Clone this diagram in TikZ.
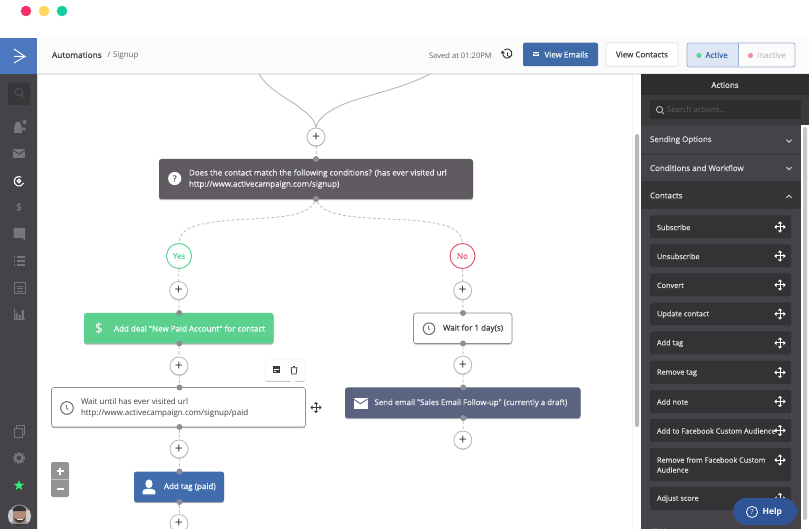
\documentclass[tikz,border=0pt]{standalone}
\usepackage{fontspec}
\setmainfont{Open Sans}
\newfontfamily\semi[FakeBold=0.4]{Open Sans}
\usetikzlibrary{shadows,shapes.geometric}
\definecolor{side}{HTML}{454347}
\definecolor{panelhead}{HTML}{2E2D2F}
\definecolor{panelmid}{HTML}{3A393B}
\definecolor{itemc}{HTML}{333235}
\definecolor{contactc}{HTML}{353436}
\definecolor{logoc}{HTML}{4C78C0}
\definecolor{emailbtn}{HTML}{3F6BA8}
\definecolor{decide}{HTML}{5F5B60}
\definecolor{greenbox}{HTML}{5BD08F}
\definecolor{sendbox}{HTML}{5A6380}
\definecolor{tagbox}{HTML}{416DAE}
\definecolor{helpc}{HTML}{2F5597}
\definecolor{iconc}{HTML}{77757A}
\definecolor{inkc}{HTML}{3D3C40}
\definecolor{wire}{HTML}{C2C2C4}
\definecolor{portc}{HTML}{8F8F92}
\definecolor{yesc}{HTML}{5AD497}
\definecolor{noc}{HTML}{E2586F}
\definecolor{dotr}{HTML}{F5306A}
\definecolor{doty}{HTML}{FFD95C}
\definecolor{dotg}{HTML}{14CF9F}
\definecolor{sideicon}{HTML}{77767A}
\definecolor{activebg}{HTML}{DFE6F3}
\definecolor{toggleb}{HTML}{9DB2D3}
\definecolor{skin}{HTML}{B58B78}
\tikzset{
  x=1pt,y=-1pt,
  flat/.style={rectangle,inner sep=0pt,outer sep=0pt},
  flowbox/.style={flat,rounded corners=2.5pt,drop shadow={shadow xshift=0pt,shadow yshift=-1.2pt,opacity=.3,fill=black}},
  whitebox/.style={flowbox,fill=white,draw=black!45,line width=.6pt},
  lbl/.style={inner sep=0pt,outer sep=0pt,anchor=west,align=left,font=\semi\fontsize{8}{11.2}\selectfont},
  itemlbl/.style={lbl,font=\semi\fontsize{7.3}{10}\selectfont},
  plusnode/.style={circle,fill=white,draw=black!28,line width=.8pt,minimum size=18pt,inner sep=0pt,font=\fontsize{14}{14}\selectfont,text=inkc,drop shadow={shadow xshift=0pt,shadow yshift=-1pt,opacity=.2,fill=black}},
  portnode/.style={circle,fill=portc,minimum size=6pt,inner sep=0pt,outer sep=0pt},
  wireline/.style={draw=wire,line width=.9pt,dash pattern=on 3pt off 2pt},
  itembox/.style={flat,fill=itemc,rounded corners=1.5pt,minimum width=141pt},
  branch/.style={circle,fill=white,line width=1pt,minimum size=25pt,inner sep=0pt,font=\semi\fontsize{8}{9}\selectfont},
}
\newcommand{\moveicon}[3][white]{\begin{scope}[shift={(#2,#3)}]
 \draw[#1,line width=1pt] (-4.5,0)--(4.5,0) (0,-4.5)--(0,4.5);
 \fill[#1] (-5.6,0)--(-3.3,-2.2)--(-3.3,2.2)--cycle (5.6,0)--(3.3,-2.2)--(3.3,2.2)--cycle
       (0,-5.6)--(-2.2,-3.3)--(2.2,-3.3)--cycle (0,5.6)--(-2.2,3.3)--(2.2,3.3)--cycle;
 \end{scope}}
\newcommand{\mailicon}[6]{\begin{scope}[shift={(#1,#2)}]
 \fill[#5] (-#3,-#4) rectangle (#3,#4);
 \draw[#6,line width=.9pt] (-#3,-#4+.6)--(0,.2)--(#3,-#4+.6);
 \end{scope}}
\newcommand{\clockicon}[3]{\begin{scope}[shift={(#1,#2)}]
 \draw[iconc,line width=1.1pt] (0,0) circle (#3);
 \draw[iconc,line width=.9pt] (-.5,-3)--(-.5,0)--(1,1.5);
 \end{scope}}
\newcommand{\chev}[3]{\draw[white!85!black,line width=.8pt] (#1-2.5,#2-#3*1.3)--(#1,#2+#3*1.3)--(#1+2.5,#2-#3*1.3);}
\newcommand{\panelitem}[4]{\node[itembox,minimum height=#3pt] (#1) at (720.5,#2) {};
 \node[itemlbl,text=white!88!black] (#1t) at (657,#2+.4) {#4};}
\begin{document}
\begin{tikzpicture}
\useasboundingbox (0,0) rectangle (809,529);
\fill[white] (0,0) rectangle (809,529);
% window dots
\fill[dotr] (26,11) circle (5.3);
\fill[doty] (44,11) circle (5.3);
\fill[dotg] (62,11) circle (5.3);
% header and canvas
\fill[black!1.5] (38,38) rectangle (809,74);
\fill[black!9] (38,73.5) rectangle (809,75);
\fill[side] (0,74) rectangle (37,529);
\fill[logoc] (0,38) rectangle (37,74);
\fill[black!12] (37,74) rectangle (38.2,529);
\draw[white,line width=1pt] (14,49)--(25,56.5)--(14,63) (14,56.5)--(25,56.5);
% sidebar icons
\fill[black!20!side] (8,83) [rounded corners=1.5pt] rectangle (30,105);
\draw[sideicon!130,line width=1.1pt] (19,92) circle (3.8) (22,95)--(24.5,97.5);
\fill[sideicon] (14,133) -- (14,128) -- (16,122) -- (20,122) -- (22,128) -- (22,133) -- cycle (24.5,122) circle (2) (24,129) circle (1.8);
\mailicon{19}{154}{6}{4.5}{sideicon}{side}
\draw[white,line width=1.2pt] (19,181) circle (1.8);
\draw[white,line width=1.1pt] (23.5,183) arc (20:300:4.8);
\node[inner sep=0pt,text=sideicon,font=\semi\fontsize{10.5}{11}\selectfont] (sdollar) at (19,207) {\$};
\fill[sideicon] (13.5,228)--(25,228)--(25,240.5)--(22,238)--(13.5,238)--cycle;
\foreach \yy in {257,261,265}{\fill[sideicon] (16.5,\yy-1) rectangle (25,\yy+.6); \fill[sideicon] (13.5,\yy-1) rectangle (15,\yy+.6);}
\draw[sideicon,line width=1pt] (14,283) rectangle (25,294);
\draw[sideicon,line width=.8pt] (16.5,286)--(22.5,286) (16.5,288.5)--(22.5,288.5) (16.5,291)--(22.5,291);
\draw[sideicon,line width=1pt] (14,309)--(14,320)--(25,320);
\fill[sideicon] (15.5,313) rectangle (17.5,319) (18.7,315) rectangle (20.5,319) (21.7,310) rectangle (24,319);
\draw[sideicon,line width=1pt] (14,428) rectangle (22,437) (16.5,428)--(16.5,425.5)--(24.5,425.5)--(24.5,434.5)--(22,434.5);
\draw[sideicon,line width=2pt] (19,458) circle (3.6);
\draw[sideicon,line width=1.5pt,dash pattern=on 1.6pt off 1.2pt] (19,458) circle (5.3);
\node[star,star points=5,star point ratio=2.4,fill=dotg!60!green!85!white,minimum size=11pt,inner sep=0pt] (sstar) at (19,485.5) {};
% avatar
\begin{scope}
 \clip (19.5,516) circle (11.5);
 \fill[black!45] (8,504) rectangle (31,529);
 \fill[black!20] (8,510) rectangle (13,522) (26,510) rectangle (31,522);
 \fill[skin] (19.5,514.5) ellipse (6 and 7.5);
 \fill[black!80] (13,511) arc (180:360:6.5 and 5.5) -- cycle;
 \fill[black!60!skin] (13.5,516) .. controls (14,525) and (25,525) .. (25.5,516) -- (24,519) -- (15,519) -- cycle;
 \fill[white!90!black] (16.5,518.5) rectangle (22.5,520);
 \fill[black!75] (8,524) rectangle (31,529);
\end{scope}
% canvas separators and scrollbar
\fill[black!5] (632,75) rectangle (633,529);
\fill[black!28] (635,134) [rounded corners=2pt] rectangle (639,427);
% right panel
\fill[side] (641,74) rectangle (801,529);
\fill[white] (801,125) rectangle (809,529);
\fill[black!22] (803,127) [rounded corners=2pt] rectangle (807,520);
\fill[panelhead] (641,74) rectangle (809,95);
\fill[panelmid] (641,95) rectangle (809,125);
\fill[panelhead] (650,100) [rounded corners=1pt] rectangle (801,119);
\fill[contactc] (641,181) rectangle (801,209);
\draw[black!20!side,line width=.4pt] (641,154)--(801,154);
\node[lbl,anchor=center,text=white!92!black] (acts) at (725,85) {Actions};
\draw[white!72!black,line width=.9pt] (659.5,109.5) circle (3.1) (661.8,111.8)--(664,114);
\node[lbl,font=\fontsize{7.8}{9}\selectfont,text=black!62] (srch) at (667,110) {Search actions...};
\node[lbl,text=white!88!black] (sec1) at (650,140) {Sending Options};
\node[lbl,text=white!88!black] (sec2) at (650,168) {Conditions and Workflow};
\node[lbl,text=white!88!black] (sec3) at (650,195.5) {Contacts};
\chev{789}{141}{1}
\chev{789}{168.5}{1}
\chev{789}{196.5}{-1}
\panelitem{i1}{227}{23}{Subscribe}
\panelitem{i2}{256}{23}{Unsubscribe}
\panelitem{i3}{285}{23}{Convert}
\panelitem{i4}{314}{23}{Update contact}
\panelitem{i5}{343}{23}{Add tag}
\panelitem{i6}{372.5}{23}{Remove tag}
\panelitem{i7}{401.5}{23}{Add note}
\panelitem{i8}{430.5}{23}{Add to Facebook Custom Audience}
\panelitem{i9}{464.5}{33}{Remove from Facebook Custom\\Audience}
\panelitem{i10}{498.5}{23}{Adjust score}
\foreach \yy in {227,256,285,314,343,372.5,401.5,430.5,460,498.5}{\moveicon{780}{\yy}}
\begin{scope}
 \clip (641,515) rectangle (801,529);
 \node[itemlbl,text=white!88!black] (crm) at (650,531.5) {CRM};
\end{scope}
\node[flat,fill=helpc,rounded corners=13.5pt,minimum width=64pt,minimum height=27pt] (help) at (765,511.5) {};
\draw[white,line width=.8pt] (752,512) circle (5.6);
\node[inner sep=0pt,text=white,font=\fontsize{7}{8}\selectfont] (helpq) at (752,512) {?};
\node[lbl,text=white,font=\bfseries\fontsize{8.5}{10}\selectfont] (helpt) at (762.5,512) {Help};
% header contents
\node[lbl,anchor=base west,text=inkc,font=\semi\fontsize{8.3}{10}\selectfont] (crumb1) at (52,58) {Automations};
\node[lbl,anchor=base west,font=\fontsize{8}{9}\selectfont,text=black!60] (crumb2) at (107.5,58) {/\hspace{2.6pt}Signup};
\node[lbl,font=\fontsize{7.6}{9}\selectfont,text=black!62] (saved) at (429,56) {Saved at 01:20PM};
\draw[inkc,line width=1pt] (503,52) arc (200:-130:4.6);
\draw[inkc,line width=.8pt] (507.5,52.5)--(507.5,55.5)--(510,57);
\fill[inkc] (500.5,53.5)--(505,53.5)--(502.5,50.5)--cycle;
\node[flat,fill=emailbtn,rounded corners=2pt,minimum width=75pt,minimum height=23.5pt] (bemail) at (560.5,54.5) {};
\mailicon{536}{54.5}{2.7}{2}{white}{emailbtn}
\node[lbl,text=white] (bemailt) at (544.5,54.5) {View Emails};
\node[flat,fill=white,draw=black!12,line width=.7pt,rounded corners=2pt,minimum width=72pt,minimum height=23.5pt] (bcont) at (642,54.5) {};
\node[lbl,text=inkc] (bcontt) at (616,54.5) {View Contacts};
\node[flat,fill=activebg,minimum width=51pt,minimum height=24pt] (bact) at (712.5,55) {};
\node[flat,fill=black!1,minimum width=57pt,minimum height=24pt] (bina) at (766.5,55) {};
\draw[toggleb,line width=.8pt,rounded corners=2pt] (687,43) rectangle (795,67);
\draw[toggleb,line width=.8pt] (738,43)--(738,67);
\fill[yesc] (699,55.5) circle (2.6);
\fill[noc!65!white] (750.5,55.5) circle (2.6);
\node[lbl,text=emailbtn] (bactt) at (705.5,55) {Active};
\node[lbl,text=black!22] (binat) at (757,55) {Inactive};
% flow boxes
\node[flowbox,fill=decide,minimum width=314pt,minimum height=40pt] (cond) at (316,179) {};
\node[flowbox,fill=greenbox,minimum width=189.5pt,minimum height=30.5pt] (deal) at (178.75,328.25) {};
\node[whitebox,minimum width=98.5pt,minimum height=30.5pt] (wday) at (462.75,328.25) {};
\node[flowbox,fill=sendbox,minimum width=235.5pt,minimum height=30.5pt] (send) at (462.75,402.75) {};
\node[whitebox,minimum width=254pt,minimum height=39.5pt] (wurl) at (178.5,407.25) {};
\node[flowbox,fill=tagbox,minimum width=90pt,minimum height=30.5pt] (atag) at (179,486.75) {};
% ports
\node[portnode] (p0) at (316,159) {};
\node[portnode] (p0b) at (316,199) {};
\node[portnode] (p1) at (179.3,313) {};
\node[portnode] (p1b) at (179.3,343.5) {};
\node[portnode] (p2) at (179.5,387.5) {};
\node[portnode] (p2b) at (179.5,427) {};
\node[portnode] (p3) at (179.5,471.5) {};
\node[portnode] (p3b) at (179.5,502) {};
\node[portnode] (q1) at (463,313) {};
\node[portnode] (q1b) at (463,343.5) {};
\node[portnode] (q2) at (463.3,387.5) {};
\node[portnode] (q2b) at (463.3,418) {};
% plus and branch nodes
\node[plusnode] (a0) at (316,137) {+};
\node[plusnode] (a1) at (178.6,290.5) {+};
\node[plusnode] (a2) at (179,366) {+};
\node[plusnode] (a3) at (179,449) {+};
\node[plusnode] (a4) at (179,523.5) {+};
\node[plusnode] (b1) at (462.6,290.5) {+};
\node[plusnode] (b2) at (462.8,365) {+};
\node[plusnode] (b3) at (462.8,440) {+};
\node[branch,draw=yesc,text=yesc] (yes) at (179,256) {Yes};
\node[branch,draw=noc,text=noc] (no) at (462.5,256) {No};
% connectors
\coordinate (tl) at (259,74);
\coordinate (tr) at (430,74);
\draw[black!28,line width=.9pt] (a0.north) .. controls (315,118) and (305,112) .. (295,104) .. controls (275,92) and (265,84) .. (tl);
\draw[black!28,line width=.9pt] (a0.north) .. controls (318,116) and (335,107) .. (352,101) .. controls (380,92) and (405,87) .. (tr);
\draw[wireline] (a0)--(p0);
\draw[wireline] (a1)--(p1);
\draw[wireline] (yes)--(a1);
\draw[wireline] (p1b)--(a2);
\draw[wireline] (a2)--(p2);
\draw[wireline] (p2b)--(a3);
\draw[wireline] (a3)--(p3);
\draw[wireline] (p3b)--(a4);
\draw[wireline] (no)--(b1);
\draw[wireline] (b1)--(q1);
\draw[wireline] (q1b)--(b2);
\draw[wireline] (b2)--(q2);
\draw[wireline] (q2b)--(b3);
\draw[wireline] (p0b) .. controls (306,221) and (255,217) .. (222,221) .. controls (195,224) and (179,229) .. (yes.north);
\draw[wireline] (p0b) .. controls (326,221) and (380,217) .. (420,221) .. controls (447,224) and (462,229) .. (no.north);
% flow labels and icons
\fill[white] (174.7,178.5) circle (6.6);
\node[inner sep=0pt,text=decide,font=\semi\fontsize{8.5}{9}\selectfont] (qmark) at (174.7,178.5) {?};
\node[lbl,text=white!95!black] (condt) at (189,179) {Does the contact match the following conditions? (has ever visited url\\http://www.activecampaign.com/signup)};
\node[inner sep=0pt,text=white,font=\fontsize{14}{14}\selectfont] (dealic) at (99,328.5) {\$};
\node[lbl,text=white] (dealt) at (114,328.5) {Add deal "New Paid Account" for contact};
\clockicon{429}{328.7}{5.8}
\node[lbl,text=inkc] (wdayt) at (443,328.5) {Wait for 1 day(s)};
\mailicon{360.5}{403.5}{7}{5}{white}{sendbox}
\node[lbl,text=white!95!black,font=\semi\fontsize{7.85}{10}\selectfont] (sendt) at (374.5,403) {Send email "Sales Email Follow-up" (currently a draft)};
\clockicon{67}{408}{6.3}
\node[lbl,text=inkc,font=\fontsize{8}{11.2}\selectfont] (wurlt) at (81,407.7) {Wait until has ever visited url\\http://www.activecampaign.com/signup/paid};
\begin{scope}[shift={(149,487)}]
 \fill[white] (0,-3.2) ellipse (3.6 and 4.4);
 \fill[white] (-6.3,7.3)--(-6.3,3.7) .. controls (-4,1) and (4,1) .. (6.3,3.7) -- (6.3,7.3)--cycle;
\end{scope}
\node[lbl,text=white] (atagt) at (164,487) {Add tag (paid)};
% toolbar popup
\node[flat,fill=white,draw=black!7,line width=.5pt,rounded corners=2pt,minimum width=40pt,minimum height=21pt,drop shadow={shadow xshift=0pt,shadow yshift=-.8pt,opacity=.25,fill=black}] (tools) at (285.2,370.5) {};
\fill[white] (290,380.5)--(296,380.5)--(293,384)--cycle;
\fill[inkc] (272.5,366.5) rectangle (279.5,373.5);
\draw[white,line width=.6pt] (273.5,369)--(278.5,369) (273.5,371.2)--(276,371.2);
\draw[inkc,line width=.8pt] (291.3,368.5)--(291.8,374)--(296.2,374)--(296.7,368.5) (290.5,367.7)--(297.5,367.7) (293,366.6)--(295,366.6);
\moveicon[inkc]{316}{407.5}
% zoom control
\node[flat,fill=black!42,rounded corners=2pt,minimum width=18pt,minimum height=35pt] (zoomc) at (60,479.5) {};
\draw[white!75!black,line width=.5pt] (51,479.5)--(69,479.5);
\draw[white,line width=1.1pt] (56.5,471)--(63.5,471) (60,467.5)--(60,474.5) (56.5,489)--(63.5,489);
\end{tikzpicture}
\end{document}
